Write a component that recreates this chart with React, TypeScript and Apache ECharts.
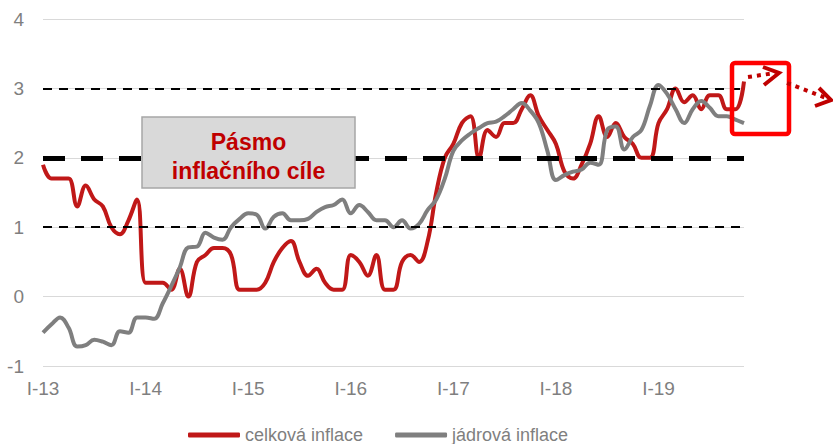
import React, { useEffect, useRef } from "react";
import * as echarts from "echarts";

const monthRoman = ["I", "II", "III", "IV", "V", "VI", "VII", "VIII", "IX", "X", "XI", "XII"];
const years = ["13", "14", "15", "16", "17", "18", "19"];
const lastMonthCount = 83; // Jan 2013 .. Nov 2019

const categories: string[] = [];
years.forEach((y) => monthRoman.forEach((m) => categories.push(`${m}-${y}`)));
const months = categories.slice(0, lastMonthCount);

const headlineName = "celková inflace";
const coreName = "jádrová inflace";

const headline = [
  1.9, 1.7, 1.7, 1.7, 1.3, 1.6, 1.4, 1.3, 1.0, 0.9, 1.1, 1.4,
  0.2, 0.2, 0.2, 0.1, 0.4, 0.0, 0.5, 0.6, 0.7, 0.7, 0.6, 0.1,
  0.1, 0.1, 0.2, 0.5, 0.7, 0.8, 0.5, 0.3, 0.4, 0.2, 0.1, 0.1,
  0.6, 0.5, 0.3, 0.6, 0.1, 0.1, 0.5, 0.6, 0.5, 0.8, 1.5, 2.0,
  2.2, 2.5, 2.6, 2.0, 2.4, 2.3, 2.5, 2.5, 2.7, 2.9, 2.6, 2.4,
  2.2, 1.8, 1.7, 1.9, 2.2, 2.6, 2.3, 2.5, 2.3, 2.2, 2.0, 2.0,
  2.5, 2.7, 3.0, 2.8, 2.9, 2.7, 2.9, 2.9, 2.7, 2.7, 3.1,
];

const core = [
  -0.52, -0.4, -0.3, -0.45, -0.72, -0.7, -0.62, -0.65, -0.7, -0.5, -0.52, -0.3,
  -0.3, -0.32, -0.1, 0.15, 0.42, 0.71, 0.72, 0.92, 0.85, 0.82, 1.0, 1.12,
  1.2, 1.18, 0.98, 1.15, 1.2, 1.1, 1.1, 1.12, 1.22, 1.29, 1.32, 1.4,
  1.2, 1.32, 1.22, 1.1, 1.1, 1.0, 1.1, 0.98, 1.05, 1.25, 1.4, 1.7,
  2.1, 2.25, 2.35, 2.43, 2.5, 2.52, 2.6, 2.7, 2.79, 2.68, 2.5, 2.1,
  1.68, 1.75, 1.8, 1.83, 1.93, 1.9, 2.4, 2.45, 2.12, 2.3, 2.4, 2.75,
  3.05, 2.92, 2.7, 2.5, 2.7, 2.82, 2.72, 2.6, 2.6, 2.55, 2.5,
];

const targetCentre = [2];
const targetBand = [1, 3];
const yTicks = { min: -1, max: 4, interval: 1 };
const bandLabel = "Pásmo\ninflačního cíle";

const FONT = "'Liberation Sans', Arial, sans-serif";

export default function App() {
  const ref = useRef<HTMLDivElement>(null);
  useEffect(() => {
    if (!ref.current) return;
    const chart = echarts.init(ref.current, undefined, { renderer: "svg" });
    chart.setOption({
      animation: false,
      backgroundColor: "#ffffff",
      grid: { left: 43, right: 89, top: 19, bottom: 78, containLabel: false },
      legend: {
        data: [headlineName, coreName],
        left: 183,
        top: 421,
        icon: "roundRect",
        itemWidth: 52,
        itemHeight: 5,
        itemGap: 32,
        textStyle: { color: "#7f7f7f", fontSize: 18, fontFamily: FONT },
      },
      xAxis: {
        type: "category",
        data: months,
        boundaryGap: false,
        axisLine: { show: false },
        axisTick: { show: false },
        splitLine: { show: false },
        axisLabel: {
          interval: (i: number) => i % 12 === 0,
          color: "#7f7f7f",
          fontSize: 19,
          fontFamily: FONT,
          margin: 13,
        },
      },
      yAxis: {
        type: "value",
        min: yTicks.min,
        max: yTicks.max,
        interval: yTicks.interval,
        axisLine: { show: false },
        axisTick: { show: false },
        splitLine: { lineStyle: { color: "#d9d9d9", width: 1.2 } },
        axisLabel: { color: "#7f7f7f", fontSize: 19, fontFamily: FONT, margin: 19 },
      },
      series: [
        {
          name: headlineName,
          type: "line",
          data: headline,
          smooth: 0.4,
          showSymbol: false,
          symbol: "none",
          lineStyle: { color: "#c01818", width: 4 },
          itemStyle: { color: "#c01818" },
          z: 2,
        },
        {
          name: coreName,
          type: "line",
          data: core,
          smooth: 0.4,
          showSymbol: false,
          symbol: "none",
          lineStyle: { color: "#7f7f7f", width: 4 },
          itemStyle: { color: "#7f7f7f" },
          z: 3,
        },
        {
          name: "target",
          type: "line",
          data: [],
          z: 5,
          markLine: {
            silent: true,
            symbol: ["none", "none"],
            label: { show: false },
            data: [
              ...targetBand.map((v) => ({
                yAxis: v,
                lineStyle: { color: "#000000", width: 2.2, type: [9, 7] },
              })),
              ...targetCentre.map((v) => ({
                yAxis: v,
                lineStyle: { color: "#000000", width: 5, type: [22, 16] },
              })),
            ],
          },
        },
      ],
      graphic: [
        {
          type: "rect",
          shape: { x: 142, y: 117, width: 213, height: 71 },
          style: { fill: "#d9d9d9", stroke: "#a6a6a6", lineWidth: 1.5 },
          z: 20,
        },
        {
          type: "text",
          x: 248.5,
          y: 156,
          z: 21,
          style: {
            text: bandLabel,
            fill: "#c00000",
            font: `bold 23px ${FONT}`,
            align: "center",
            verticalAlign: "middle",
            lineHeight: 29,
          },
        },
        {
          type: "rect",
          shape: { x: 732, y: 63, width: 57, height: 71, r: 3 },
          style: { fill: "none", stroke: "#ff0000", lineWidth: 4.5 },
          z: 20,
        },
        {
          type: "polyline",
          shape: { points: [[748, 77], [775, 73]] },
          style: { stroke: "#c00000", lineWidth: 4, lineDash: [4, 5], fill: "none" },
          z: 21,
        },
        {
          type: "polyline",
          shape: { points: [[763, 67], [779, 73], [764, 85]] },
          style: { stroke: "#c00000", lineWidth: 4, fill: "none" },
          z: 21,
        },
        {
          type: "polyline",
          shape: { points: [[787, 83], [826, 98]] },
          style: { stroke: "#c00000", lineWidth: 4, lineDash: [4, 5], fill: "none" },
          z: 21,
        },
        {
          type: "polyline",
          shape: { points: [[819, 88], [831, 100], [815, 106]] },
          style: { stroke: "#c00000", lineWidth: 4, fill: "none" },
          z: 21,
        },
      ],
    });
    return () => chart.dispose();
  }, []);
  return (
    <div
      ref={ref}
      style={{ position: "fixed", left: 0, top: 0, width: 833, height: 444 }}
    />
  );
}
